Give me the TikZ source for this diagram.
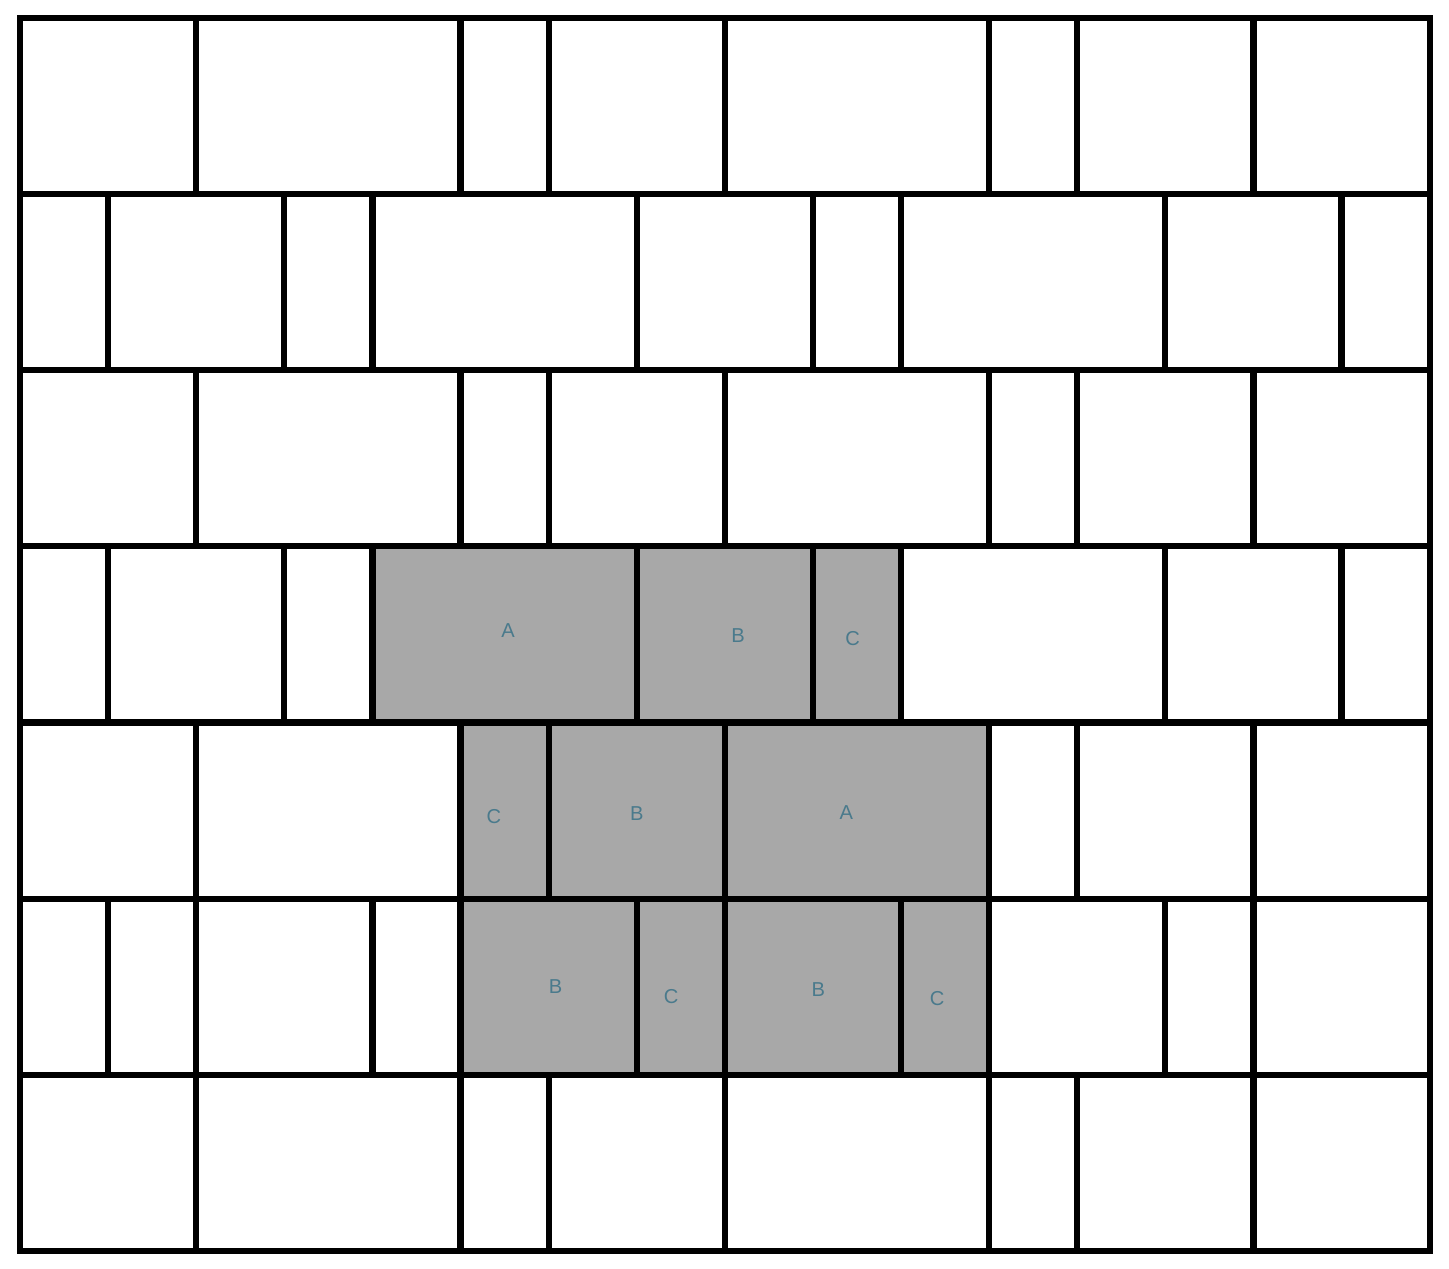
\documentclass[tikz,border=0pt]{standalone}
\usepackage{fontspec}
\setmainfont{Liberation Sans}
\usepackage{xcolor}
\usepackage{tikz}
\usetikzlibrary{calc}
\usetikzlibrary{positioning}
\definecolor{laidgray}{HTML}{A8A8A8}
\definecolor{tagblue}{HTML}{4A7A8C}
\tikzstyle{tile} = [draw=black, line width=2pt]
\tikzstyle{laid} = [fill=laidgray]
\tikzstyle{tag} = [draw=none, inner sep=0pt, text=tagblue, font=\fontsize{6.5}{8}\selectfont]

\begin{document}
\begin{tikzpicture}
\useasboundingbox (-0.227,-0.2) rectangle (16.22,14.2);
% laid tiles
\fill [laid] (4,6) rectangle (7,8);
\fill [laid] (7,6) rectangle (9,8);
\fill [laid] (9,6) rectangle (10,8);
\fill [laid] (5,4) rectangle (6,6);
\fill [laid] (6,4) rectangle (8,6);
\fill [laid] (8,4) rectangle (11,6);
\fill [laid] (5,2) rectangle (7,4);
\fill [laid] (7,2) rectangle (8,4);
\fill [laid] (8,2) rectangle (10,4);
\fill [laid] (10,2) rectangle (11,4);
% rows 2-3-1-2-3-1-2-2
\foreach \y in {0,4,8,12}
  \foreach \x/\w in {0/2,2/3,5/1,6/2,8/3,11/1,12/2,14/2}
    \draw [tile] (\x,\y) rectangle ++(\w,2);
% rows 1-2-1-3-2-1-3-2-1
\foreach \y in {6,10}
  \foreach \x/\w in {0/1,1/2,3/1,4/3,7/2,9/1,10/3,13/2,15/1}
    \draw [tile] (\x,\y) rectangle ++(\w,2);
% row 1-1-2-1-2-1-2-1-2-1-2
\foreach \x/\w in {0/1,1/1,2/2,4/1,5/2,7/1,8/2,10/1,11/2,13/1,14/2}
  \draw [tile] (\x,2) rectangle ++(\w,2);
% labels
\node [tag] (tA1) at (5.54,7.04) {A};
\node [tag] (tB1) at (8.15,6.99) {B};
\node [tag] (tC1) at (9.45,6.95) {C};
\node [tag] (tC2) at (5.38,4.93) {C};
\node [tag] (tB2) at (7.00,4.96) {B};
\node [tag] (tA2) at (9.38,4.98) {A};
\node [tag] (tB3) at (6.08,3.00) {B};
\node [tag] (tC3) at (7.39,2.89) {C};
\node [tag] (tB4) at (9.06,2.97) {B};
\node [tag] (tC4) at (10.41,2.87) {C};
\end{tikzpicture}
\end{document}
